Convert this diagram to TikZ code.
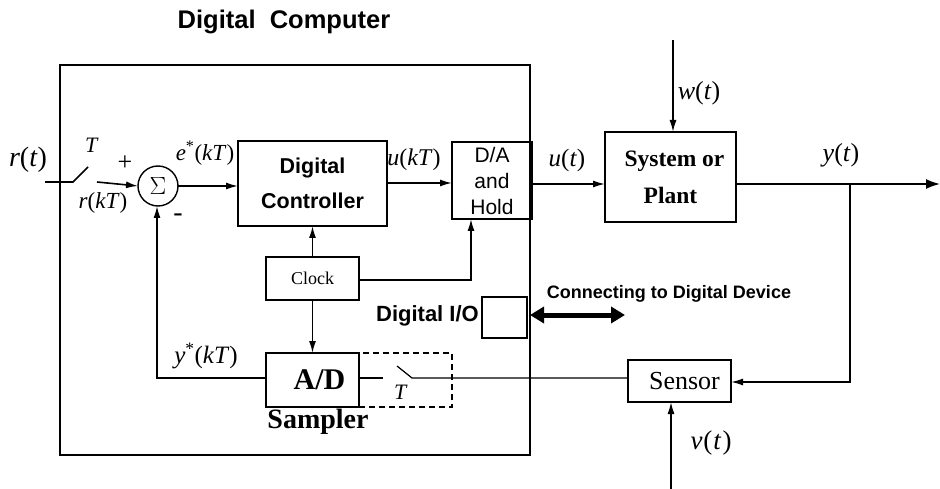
\documentclass[tikz,border=0pt]{standalone}
\usepackage{fontspec}
\setmainfont{Liberation Serif}
\newfontfamily\sansf{Liberation Sans}
\usetikzlibrary{arrows.meta,calc}
\newcommand{\iv}[1]{\textit{#1}}
\begin{document}
\begin{tikzpicture}[x=1pt,y=-1pt,
  blk/.style={draw, line width=1.4pt, inner sep=0pt, outer sep=0pt, align=center},
  conn/.style={line width=1.6pt},
  arr/.style={conn, -{Latex[length=12pt,width=7pt]}},
  lab/.style={inner sep=0pt, font=\fontsize{25}{27}\selectfont},
  sanb/.style={inner sep=0pt, font=\sansf\bfseries\fontsize{22}{24}\selectfont}]
\useasboundingbox (0,0) rectangle (940,489);

% outer computer box
\node[draw, line width=1.2pt, inner sep=0pt, outer sep=0pt, minimum width=470, minimum height=390] (comp) at (295,260) {};
\node[sanb, font=\sansf\bfseries\fontsize{25.5}{27}\selectfont] (title) at (284,22) {Digital\ \ Computer};

% blocks
\node[blk, minimum width=149, minimum height=85, font=\sansf\bfseries\fontsize{21.5}{35}\selectfont] (ctrl) at (312.5,183.5) {Digital\\Controller};
\node[blk, minimum width=80, minimum height=77, font=\sansf\fontsize{21}{26}\selectfont] (da) at (492,180.5) {D/A\\and\\Hold};
\node[blk, minimum width=131, minimum height=90, font=\bfseries\fontsize{23.5}{37}\selectfont] (plant) at (670.5,177) {\hspace*{8pt}System or\\Plant};
\node[blk, minimum width=103, minimum height=42, font=\fontsize{26}{28}\selectfont] (sensor) at (679.5,381) {\hspace*{10pt}Sensor};
\node[blk, minimum width=93, minimum height=54, font=\bfseries\fontsize{30}{32}\selectfont] (ad) at (312.5,380) {\hspace*{14pt}A/D};
\node[blk, minimum width=93, minimum height=43, font=\fontsize{18}{20}\selectfont] (clock) at (312.5,278.5) {Clock};
\node[blk, minimum width=45, minimum height=41] (dio) at (504.5,317.5) {};
\node[draw, dash pattern=on 6pt off 4pt, line width=1.4pt, inner sep=0pt, outer sep=0pt, minimum width=93, minimum height=54] (samp) at (405.5,380) {};
\node[inner sep=0pt, font=\bfseries\fontsize{28}{30}\selectfont] (samplbl) at (318,422) {Sampler};
\node[draw, circle, line width=1.4pt, minimum size=40, inner sep=0pt, outer sep=0pt, font=\fontsize{24}{26}\selectfont] (sum) at (158,186) {$\Sigma$};

% labels
\node[sanb, anchor=east] (diolbl) at (479,316) {Digital I/O};
\node[sanb, font=\sansf\bfseries\fontsize{18}{20}\selectfont] (conlbl) at (669,294) {Connecting to Digital Device};
\node[lab, font=\fontsize{28}{30}\selectfont] (rt) at (28,160) {\iv{r}(\iv{t})};
\node[lab, font=\fontsize{22}{24}\selectfont] (T1) at (92,145) {\iv{T}};
\node[lab, font=\fontsize{26}{28}\selectfont] (plus) at (125,163) {+};
\node[lab, font=\fontsize{28}{30}\selectfont] (minus) at (178,218) {-};
\node[lab, font=\fontsize{23}{25}\selectfont] (rkt) at (103,203) {\iv{r}(\iv{kT})};
\node[lab, font=\fontsize{23}{25}\selectfont] (ekt) at (205,153) {\iv{e}\textsuperscript{*}(\iv{kT})};
\node[lab, font=\fontsize{24}{26}\selectfont] (ukt) at (414,160) {\iv{u}(\iv{kT})};
\node[lab] (ut) at (567,160) {\iv{u}(\iv{t})};
\node[lab, font=\fontsize{26}{28}\selectfont] (wt) at (699,93) {\iv{w}(\iv{t})};
\node[lab, font=\fontsize{26}{28}\selectfont] (yt) at (841,155) {\iv{y}(\iv{t})};
\node[lab] (ykt) at (206,356) {\iv{y}\textsuperscript{*}(\iv{kT})};
\node[lab, font=\fontsize{22}{24}\selectfont] (T2) at (401,392) {\iv{T}};
\node[lab, font=\fontsize{27}{29}\selectfont] (vt) at (711,443) {\iv{v}\kern1pt(\kern1pt\iv{t}\kern1pt)};

% coordinates
\coordinate (rin) at (45,182);
\coordinate (sw1a) at (73,182);
\coordinate (sw1b) at (88,167);
\coordinate (sw1c) at (97,182);
\coordinate (wtop) at (673,40);
\coordinate (vbot) at (671,489);
\coordinate (yout) at (940,184);
\coordinate (branch) at (850,184);
\coordinate (sw2a) at (383,378);
\coordinate (sw2b) at (397,366);
\coordinate (sw2c) at (412,378);
\coordinate (fbk) at (157,378);
\coordinate (clk) at (471,280);
\coordinate (dioa) at (530,315);
\coordinate (diob) at (625,315);

% input switch
\draw[conn] (rin) -- (sw1a) -- (sw1b);
\draw[arr] (sw1c) -- (sum.west);
\draw[arr] (sum.east) -- (sum.east -| ctrl.west);
\draw[arr] (ctrl.east |- 0,183) -- (da.west |- 0,183);
\draw[arr] (da.east |- 0,184) -- (plant.west |- 0,184);
\draw[arr] (wtop) -- (plant.north -| wtop);
\draw[conn, -{Latex[length=14pt,width=10pt]}] (plant.east |- yout) -- (yout);
\draw[arr] (branch) -- (branch |- 0,382) -- (sensor.east |- 0,382);
\draw[arr] (vbot) -- (sensor.south -| vbot);
% sampler path
\draw[line width=1.2pt] (sensor.west |- sw2c) -- (sw2c) -- (sw2b);
\draw[line width=1.2pt] (ad.east |- sw2a) -- (sw2a);
% feedback
\draw[arr] (ad.west |- fbk) -- (fbk) -- (sum.south -| fbk);
% clock
\draw[arr] (clock.north) -- (ctrl.south);
\draw[arr] (clock.south) -- (ad.north);
\draw[arr] (clock.east |- clk) -- (clk) -- (da.south -| clk);
% digital io
\draw[line width=5pt, {Triangle[length=14pt,width=16pt]}-{Triangle[length=14pt,width=16pt]}] (dioa) -- (diob);
\end{tikzpicture}
\end{document}
